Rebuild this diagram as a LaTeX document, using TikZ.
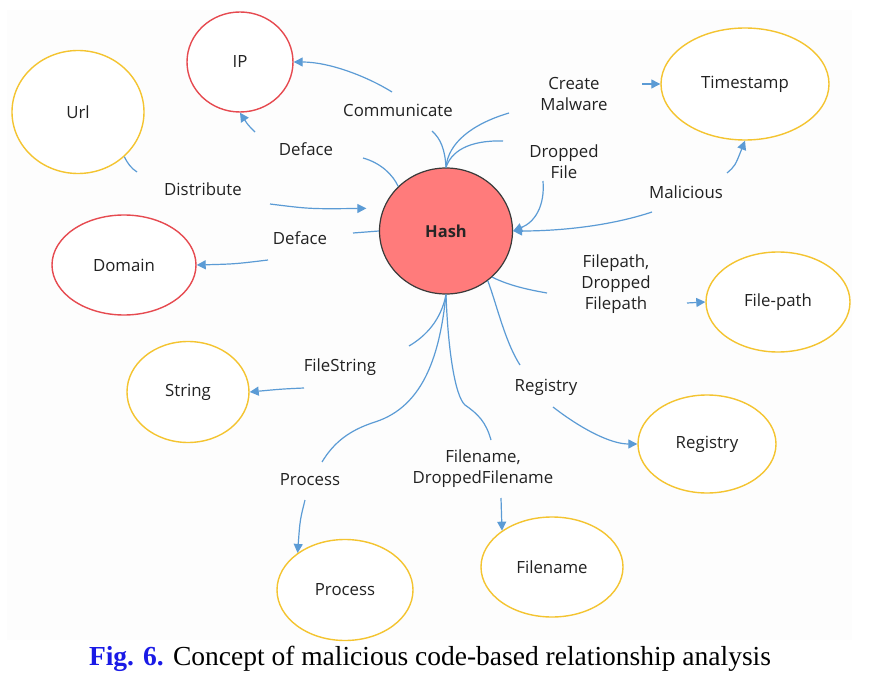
\documentclass[tikz,border=0pt]{standalone}
\usepackage{fontspec}
\setmainfont{Liberation Serif}
\newfontfamily\diagfont{Open Sans}
\usepackage{xcolor}
\usepackage{tikz}
\usetikzlibrary{shapes.geometric,arrows.meta,positioning}
\definecolor{linkblue}{HTML}{5B9BD5}
\definecolor{entred}{HTML}{E64A50}
\definecolor{entyellow}{HTML}{F4C430}
\definecolor{hashfill}{HTML}{FF7B7B}
\definecolor{hashdraw}{HTML}{3A3A3A}
\definecolor{figblue}{HTML}{1A1AE6}
\definecolor{txtgray}{HTML}{222222}
\tikzset{
    entity/.style={ellipse, draw=#1, line width=1.4pt, fill=white,
        inner sep=0pt, font=\diagfont\fontsize{16.8}{20}\selectfont,
        text=txtgray},
    relabel/.style={font=\diagfont\fontsize{16.8}{21}\selectfont,
        text=txtgray, align=center, inner sep=1pt},
    link/.style={draw=linkblue, line width=1.2pt},
    linkto/.style={link, -{Triangle[length=9pt,width=9pt]}},
}

\begin{document}
\begin{tikzpicture}[x=1pt, y=-1pt]

    % ── Frame ──────────────────────────────────────────────────────────────
    \useasboundingbox (0,0) rectangle (870,676);
    \fill[black!0.8] (7,10) rectangle (852,640);

    % ── Central hash ───────────────────────────────────────────────────────
    \node[ellipse, draw=hashdraw, line width=1.2pt, fill=hashfill,
        minimum width=133pt, minimum height=126pt,
        font=\diagfont\bfseries\fontsize{16.5}{20}\selectfont, text=black!85]
        (hash) at (446,231) {Hash};

    % ── Entities ───────────────────────────────────────────────────────────
    \node[entity=entred, minimum width=106pt, minimum height=100pt]
        (ip) at (240,62) {IP};
    \node[entity=entyellow, minimum width=132pt, minimum height=123pt]
        (url) at (78,112) {Url};
    \node[entity=entred, minimum width=144pt, minimum height=100pt]
        (domain) at (124,265) {Domain};
    \node[entity=entyellow, minimum width=168pt, minimum height=112pt]
        (timestamp) at (745,84) {Timestamp};
    \node[entity=entyellow, minimum width=144pt, minimum height=100pt]
        (filepath) at (778,302) {File-path};
    \node[entity=entyellow, minimum width=138pt, minimum height=98pt]
        (registry) at (707,444) {Registry};
    \node[entity=entyellow, minimum width=142pt, minimum height=100pt]
        (filename) at (552,567) {Filename};
    \node[entity=entyellow, minimum width=136pt, minimum height=101pt]
        (process) at (345,590) {Process};
    \node[entity=entyellow, minimum width=122pt, minimum height=101pt]
        (string) at (188,392) {String};

    % ── Relation labels ────────────────────────────────────────────────────
    \node[relabel] (lcomm)   at (398,110) {Communicate};
    \node[relabel] (ldefup)  at (306,149) {Deface};
    \node[relabel] (ldist)   at (203,189) {Distribute};
    \node[relabel] (ldeflo)  at (300,238) {Deface};
    \node[relabel] (lcreate) at (574,94)  {Create\\Malware};
    \node[relabel] (ldrop)   at (564,162) {Dropped\\File};
    \node[relabel] (lmal)    at (686,192) {Malicious};
    \node[relabel] (lfpath)  at (616,284) {Filepath,\\Dropped\\Filepath};
    \node[relabel] (lfstr)   at (340,367) {FileString};
    \node[relabel] (lproc)   at (310,480) {Process};
    \node[relabel] (lreg)    at (546,387) {Registry};
    \node[relabel] (lfname)  at (483,469) {Filename,\\DroppedFilename};

    % ── Free ends beside the labels ────────────────────────────────────────
    \coordinate (comm1) at (432,131);   \coordinate (comm2) at (392,92);
    \coordinate (defup1) at (363,158);  \coordinate (defup2) at (255,132);
    \coordinate (dist1) at (137,172);   \coordinate (dist2) at (270,204);
    \coordinate (deflo1) at (353,233);  \coordinate (deflo2) at (268,260);
    \coordinate (create1) at (509,113); \coordinate (create2) at (642,84);
    \coordinate (drop1) at (503,141);   \coordinate (drop2) at (543,181);
    \coordinate (mal1) at (652,212);    \coordinate (mal2) at (727,173);
    \coordinate (fpath1) at (547,293);  \coordinate (fpath2) at (687,303);
    \coordinate (reg1) at (520,365);    \coordinate (reg2) at (553,407);
    \coordinate (fname1) at (491,440);  \coordinate (fname2) at (501,498);
    \coordinate (proc1) at (322,462);   \coordinate (proc2) at (305,500);
    \coordinate (fstr1) at (409,346);   \coordinate (fstr2) at (304,388);

    % ── Upper left relations ───────────────────────────────────────────────
    \draw[link] (hash.north) .. controls (445,150) and (441,139) .. (comm1);
    \draw[linkto] (comm2) .. controls (368,77) and (330,62) .. (ip.east);

    \draw[link] (hash.137) .. controls (393,175) and (381,163) .. (defup1);
    \draw[linkto] (defup2) .. controls (248,125) .. (ip.south);

    \draw[link] (url.-44) .. controls (128,164) and (131,168) .. (dist1);
    \draw[linkto, shorten >=17pt] (dist2) .. controls (310,209) .. (hash.160);

    \draw[link] (hash.west) -- (deflo1);
    \draw[linkto] (deflo2) .. controls (235,264) .. (domain.east);

    % ── Upper right relations ──────────────────────────────────────────────
    \draw[link] (hash.north) .. controls (448,143) and (472,124) .. (create1);
    \draw[linkto] (create2) -- (timestamp.west);

    \draw[link] (hash.north) .. controls (451,152) and (468,140) .. (drop1);
    \draw[linkto] (drop2) .. controls (545,206) and (535,222) .. (hash.east);

    \draw[linkto] (mal1) .. controls (610,226) and (560,231) .. (hash.east);
    \draw[linkto] (mal2) .. controls (735,166) .. (timestamp.south);

    % ── Lower right relations ──────────────────────────────────────────────
    \draw[link] (hash.-45) .. controls (510,286) and (530,290) .. (fpath1);
    \draw[linkto] (fpath2) -- (filepath.west);

    \draw[link] (hash.-50) .. controls (496,302) and (505,342) .. (reg1);
    \draw[linkto] (reg2) .. controls (580,428) and (610,444) .. (registry.west);

    \draw[link] (hash.south) .. controls (448,350) and (455,396) .. (465,405)
        .. controls (478,414) and (486,422) .. (fname1);
    \draw[linkto] (fname2) -- (filename.144);

    % ── Lower left relations ───────────────────────────────────────────────
    \draw[link] (hash.south) .. controls (440,352) and (425,406) .. (375,422)
        .. controls (350,430) and (334,442) .. (proc1);
    \draw[linkto] (proc2) .. controls (300,520) .. (process.142);

    \draw[link] (hash.south) .. controls (441,320) and (426,336) .. (fstr1);
    \draw[linkto] (fstr2) .. controls (282,389) .. (string.east);

    % ── Caption ────────────────────────────────────────────────────────────
    \node[font=\fontsize{27.5}{32}\selectfont, anchor=base] (caption) at (430,665)
        {\textcolor{figblue}{\bfseries Fig. 6.} Concept of malicious
        code-based relationship analysis};

\end{tikzpicture}
\end{document}
